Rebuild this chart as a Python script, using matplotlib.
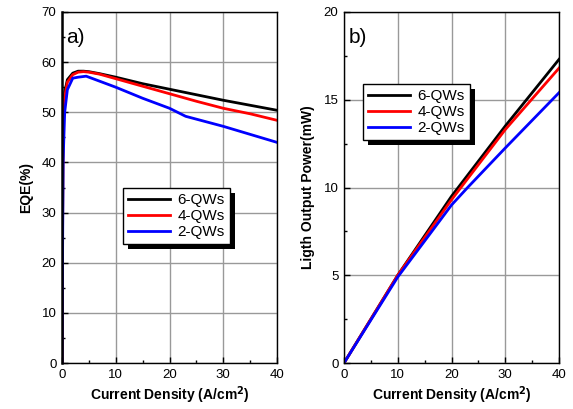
import matplotlib
matplotlib.use("Agg")
import matplotlib.pyplot as plt
from matplotlib.patches import Rectangle
from matplotlib.ticker import MultipleLocator

plt.rcParams['font.family'] = ['Liberation Sans', 'DejaVu Sans']

# ---- data ----
labels = ["6-QWs", "4-QWs", "2-QWs"]
colors = ["black", "red", "blue"]

eqe_x = [0, 0.2, 0.5, 1, 2, 3, 4, 5, 7, 10, 15, 20, 25, 30, 35, 40]
eqe_6 = [0, 50, 54, 56.5, 57.8, 58.2, 58.2, 58.1, 57.7, 57.0, 55.7, 54.6, 53.5, 52.4, 51.4, 50.4]
eqe_4 = [0, 48, 53, 56.0, 57.5, 58.0, 58.1, 58.0, 57.6, 56.7, 55.2, 53.7, 52.2, 50.8, 49.7, 48.4]
eqe_2x = [0, 0.2, 0.5, 1, 2, 3, 4.5, 7, 10, 15, 20, 23, 30, 35, 40]
eqe_2 = [0, 40, 50, 54.5, 56.8, 57.0, 57.2, 56.2, 55.0, 52.8, 50.8, 49.2, 47.2, 45.6, 44.0]

pow_x = [0, 10, 20, 30, 40]
pow_6 = [0, 5.0, 9.5, 13.5, 17.3]
pow_4 = [0, 5.0, 9.3, 13.3, 16.8]
pow_2x = [0, 10, 20, 23, 30, 40]
pow_2 = [0, 4.9, 9.0, 10.0, 12.25, 15.4]

fig = plt.figure(figsize=(5.73, 4.09), dpi=100)
W, H = 573, 409
axa = fig.add_axes([62 / W, 1 - 363 / H, 215 / W, 351 / H])
axb = fig.add_axes([344 / W, 1 - 363 / H, 215 / W, 351 / H])

def style(ax, yminor):
    ax.grid(True, color='#999999', linewidth=1.0)
    ax.set_axisbelow(True)
    for s in ax.spines.values():
        s.set_linewidth(1.0)
    ax.tick_params(which='major', direction='in', length=4, width=1, labelsize=9.5, pad=4)
    ax.tick_params(which='minor', direction='in', length=2, width=1)
    ax.set_xlim(0, 40)
    ax.set_xticks([0, 10, 20, 30, 40])
    ax.xaxis.set_minor_locator(MultipleLocator(5))
    ax.yaxis.set_minor_locator(MultipleLocator(yminor))
    ax.set_xlabel(r'Current Density (A/cm$^\mathbf{2}$)', fontsize=10, fontweight='bold', labelpad=3)

# Panel a
style(axa, 5)
axa.set_ylim(0, 70)
axa.set_yticks(range(0, 71, 10))
axa.spines['left'].set_linewidth(1.8)
for (x, y), lab, c in zip([(eqe_x, eqe_6), (eqe_x, eqe_4), (eqe_2x, eqe_2)], labels, colors):
    axa.plot(x, y, color=c, lw=2, label=lab)
axa.set_ylabel('EQE(%)', fontsize=10, fontweight='bold', labelpad=6)
axa.text(0.02, 0.955, 'a)', transform=axa.transAxes, fontsize=15, va='top', ha='left')

# Panel b
style(axb, 2.5)
axb.set_ylim(0, 20)
axb.set_yticks([0, 5, 10, 15, 20])
for (x, y), lab, c in zip([(pow_x, pow_6), (pow_x, pow_4), (pow_2x, pow_2)], labels, colors):
    axb.plot(x, y, color=c, lw=2, label=lab)
axb.set_ylabel('Ligth Output Power(mW)', fontsize=10, fontweight='bold', labelpad=6)
axb.text(0.02, 0.955, 'b)', transform=axb.transAxes, fontsize=15, va='top', ha='left')

def legend(ax, x0, ytop):
    leg = ax.legend(loc='upper left', bbox_to_anchor=(x0, ytop), fontsize=11,
                    frameon=True, fancybox=False, framealpha=1, handlelength=2.7,
                    handletextpad=0.5, borderpad=0.35, labelspacing=0.12, borderaxespad=0)
    leg.get_frame().set_edgecolor('black')
    leg.get_frame().set_linewidth(1.0)
    leg.set_zorder(5)
    return leg

lega = legend(axa, (123 - 62) / 215, (363 - 188) / 351)
legb = legend(axb, (363 - 344) / 215, (363 - 84) / 351)

fig.canvas.draw()
for ax, leg in [(axa, lega), (axb, legb)]:
    bb = leg.get_window_extent()
    inv = ax.transAxes.inverted()
    (x0, y0) = inv.transform((bb.x0 + 5, bb.y0 - 5))
    (x1, y1) = inv.transform((bb.x1 + 5, bb.y1 - 5))
    ax.add_patch(Rectangle((x0, y0), x1 - x0, y1 - y0, transform=ax.transAxes,
                           facecolor='black', edgecolor='none', zorder=4.9, clip_on=False))

fig.savefig('out.png', dpi=100)
